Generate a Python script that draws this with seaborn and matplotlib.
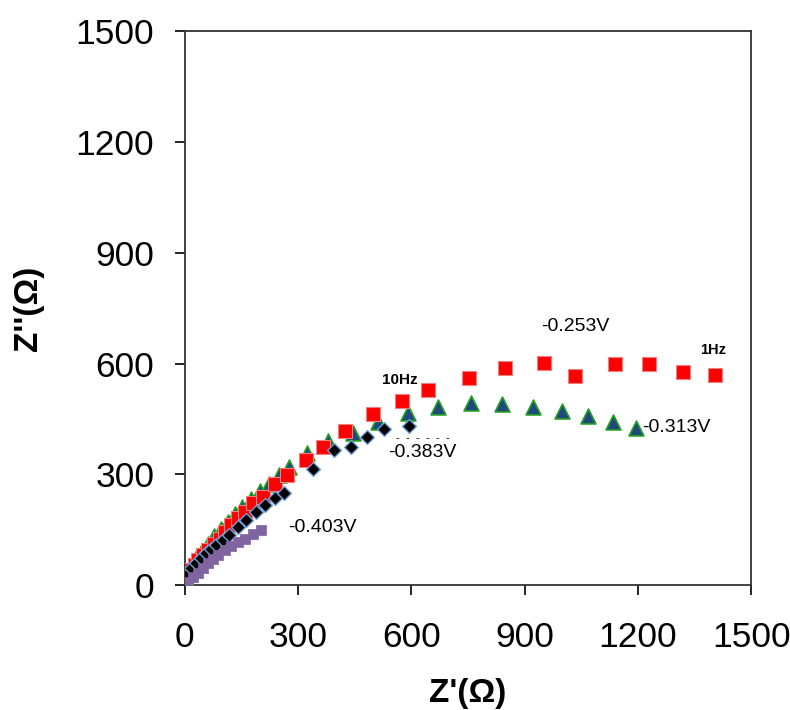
import matplotlib
matplotlib.use("Agg")
import matplotlib.pyplot as plt
import seaborn as sns
import pandas as pd

# -0.253V (red squares)
z_re_253 = [3, 12, 26, 34, 48, 61, 76, 92, 105, 122, 140, 158, 180, 207, 238, 270, 321, 367, 425, 497, 575, 645, 753, 849, 950, 1034, 1140, 1230, 1318, 1405]
z_im_253 = [22, 41, 54, 68, 81, 95, 110, 126, 144, 162, 181, 198, 221, 239, 275, 298, 338, 374, 417, 463, 499, 528, 562, 587, 602, 567, 598, 598, 576, 569]

# -0.313V (triangles)
z_re_313 = [2, 8, 18, 30, 45, 60, 77, 95, 113, 132, 152, 174, 198, 222, 248, 276, 324, 378, 444, 512, 590, 670, 757, 840, 922, 999, 1067, 1135, 1195]
z_im_313 = [8, 30, 52, 72, 92, 112, 132, 152, 172, 192, 212, 232, 255, 275, 297, 319, 358, 390, 413, 442, 467, 483, 494, 490, 483, 471, 458, 442, 424]

# -0.383V (black diamonds)
z_re_383 = [2, 6, 17, 30, 43, 56, 70, 83, 101, 118, 140, 162, 189, 213, 238, 262, 340, 396, 440, 483, 528, 594]
z_im_383 = [12, 30, 45, 59, 72, 86, 97, 108, 122, 135, 158, 176, 198, 217, 235, 250, 313, 366, 373, 400, 422, 431]

# -0.403V (purple squares)
z_re_403 = [2, 8, 21, 34, 48, 61, 74, 89, 105, 123, 140, 158, 181, 201]
z_im_403 = [2, 9, 21, 32, 45, 59, 70, 81, 95, 106, 117, 124, 138, 149]

x_ticks = [0, 300, 600, 900, 1200, 1500]
y_ticks = [0, 300, 600, 900, 1200, 1500]

sns.set_theme(style="white")
plt.rcParams['font.family'] = ['Liberation Sans', 'DejaVu Sans']
plt.rcParams['text.color'] = 'black'
plt.rcParams['xtick.color'] = 'black'
plt.rcParams['ytick.color'] = 'black'
plt.rcParams['axes.labelcolor'] = 'black'

fig = plt.figure(figsize=(7.9, 7.1), dpi=100)
ax = fig.add_axes([0.234, 0.176, 0.717, 0.780])

sns.scatterplot(x=z_re_313, y=z_im_313, marker="^", s=115, color="#1F497D",
                edgecolor="#22A022", linewidth=1.2, ax=ax, zorder=3)
sns.scatterplot(x=z_re_253, y=z_im_253, marker="s", s=115, color="#FF0000",
                edgecolor="#F08080", linewidth=0.8, ax=ax, zorder=4)
sns.scatterplot(x=z_re_383, y=z_im_383, marker="D", s=50, color="#000000",
                edgecolor="#6F9FD8", linewidth=1.0, ax=ax, zorder=5)
sns.scatterplot(x=z_re_403, y=z_im_403, marker="s", s=45, color="#8064A2",
                edgecolor="#8064A2", linewidth=0.5, ax=ax, zorder=6)

ax.set_xlim(0, 1500)
ax.set_ylim(0, 1500)
ax.set_xticks(x_ticks)
ax.set_yticks(y_ticks)
ax.set_xticklabels([str(t) for t in x_ticks], fontsize=25.5)
ax.set_yticklabels([str(t) for t in y_ticks], fontsize=25.5)
ax.tick_params(axis="both", direction="out", length=7, width=1.2,
               bottom=True, left=True)
ax.tick_params(axis="x", pad=19)
ax.tick_params(axis="y", pad=15)
for sp in ax.spines.values():
    sp.set_visible(True)
    sp.set_color("#333333")
    sp.set_linewidth(1.3)

ax.set_xlabel("Z'(Ω)", fontsize=24, fontweight="bold", labelpad=17)
ax.set_ylabel("Z''(Ω)", fontsize=24, fontweight="bold", labelpad=23)

ax.text(1034, 699, "-0.253V", fontsize=14, ha="center", va="center")
ax.text(1399, 636, "1Hz", fontsize=10.5, fontweight="bold", ha="center", va="center")
ax.text(570, 555, "10Hz", fontsize=11, fontweight="bold", ha="center", va="center")
ax.text(1212, 428, "-0.313V", fontsize=14, ha="left", va="center")
ax.text(628, 358, "-0.383V", fontsize=14, ha="center", va="center")
ax.text(630, 398, "-  -  -  -  -  -", fontsize=8, ha="center", va="center")
ax.text(363, 157, "-0.403V", fontsize=14, ha="center", va="center")

fig.savefig("out.png", dpi=100)
